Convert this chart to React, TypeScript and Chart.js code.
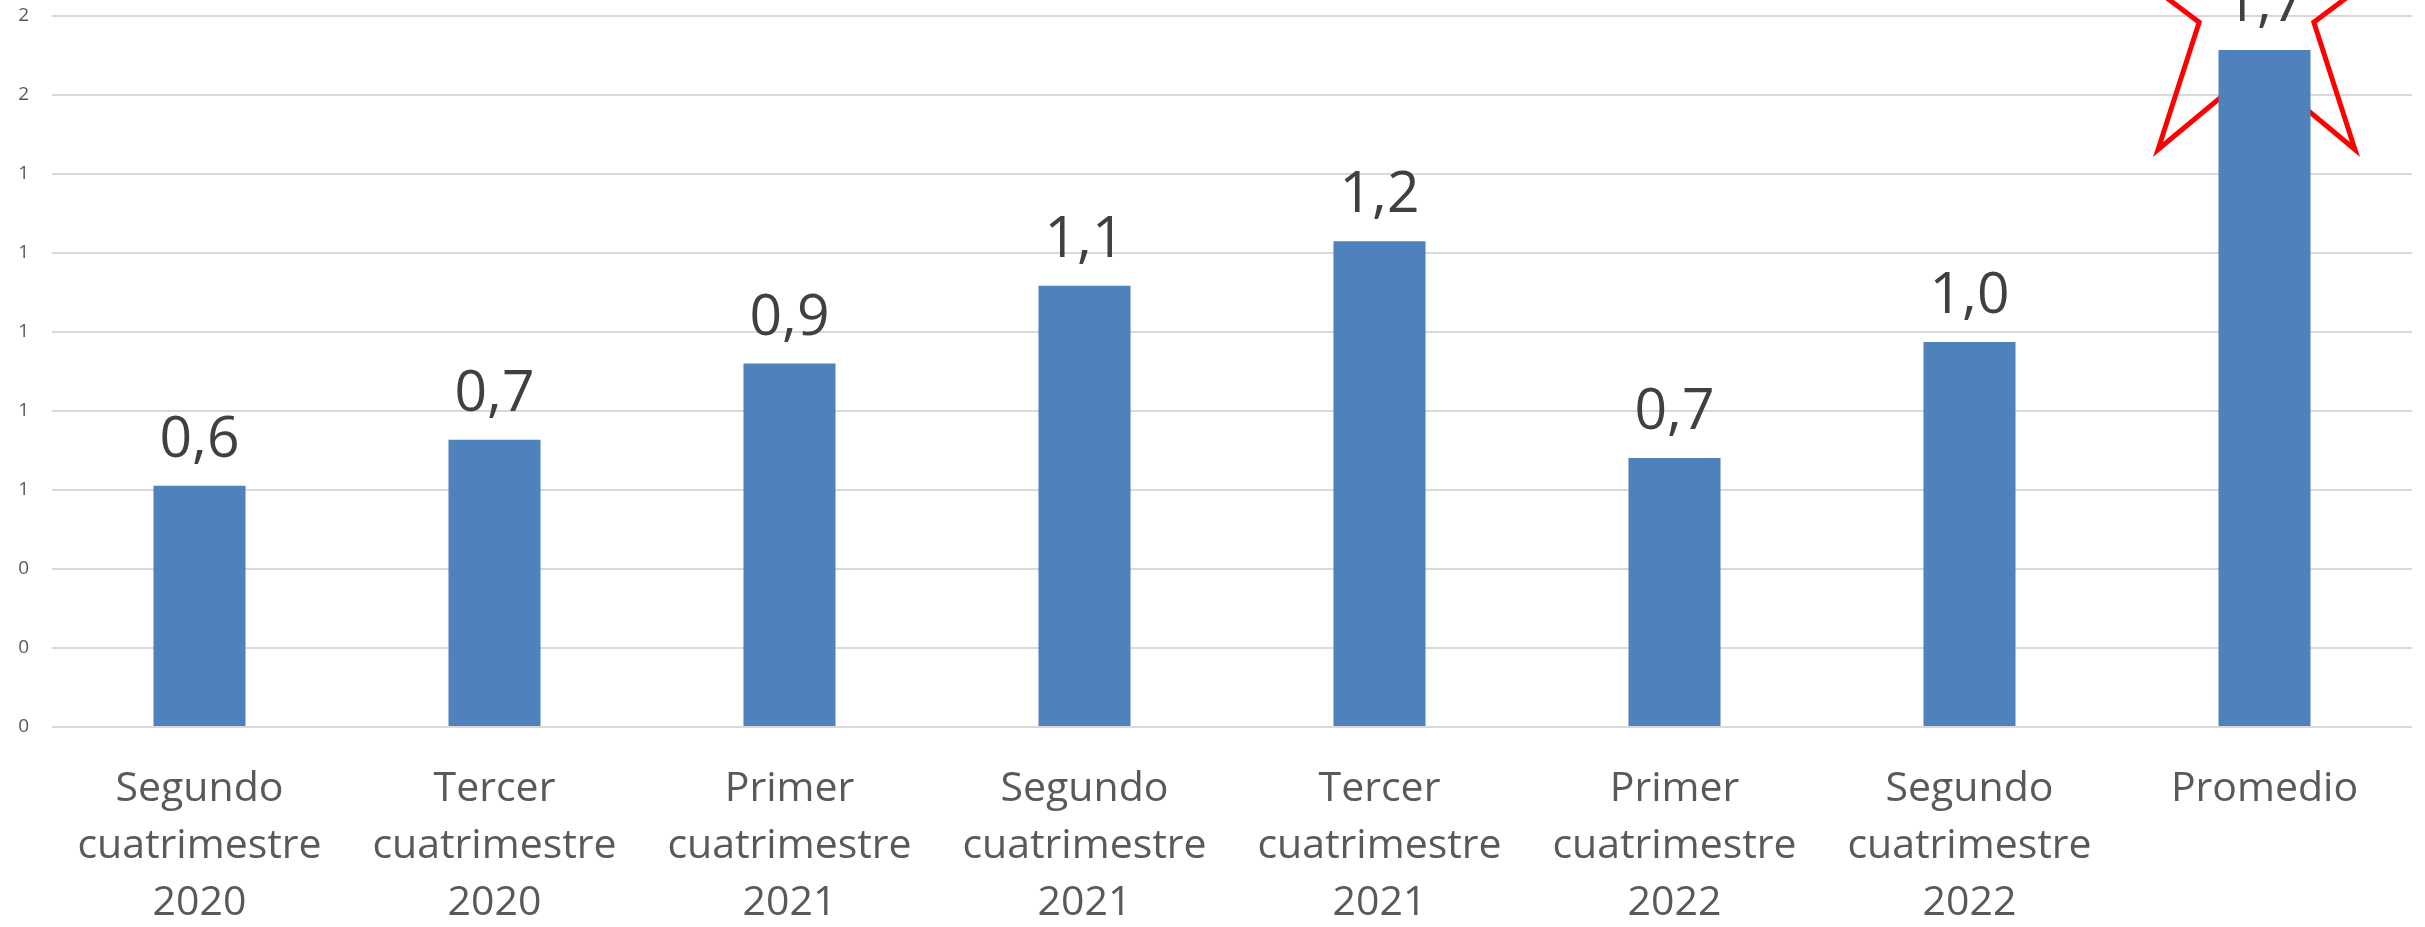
import React, { useEffect, useRef } from "react";
import { Chart, registerables } from "chart.js";

Chart.register(...registerables);

const categories: string[][] = [
  ["Segundo", "cuatrimestre", "2020"],
  ["Tercer", "cuatrimestre", "2020"],
  ["Primer", "cuatrimestre", "2021"],
  ["Segundo", "cuatrimestre", "2021"],
  ["Tercer", "cuatrimestre", "2021"],
  ["Primer", "cuatrimestre", "2022"],
  ["Segundo", "cuatrimestre", "2022"],
  ["Promedio"],
];

const values: number[] = [0.611, 0.727, 0.92, 1.117, 1.23, 0.681, 0.975, 1.714];

const yMin = 0;
const yMax = 1.8;
const yStep = 0.2;

const highlightIndex = 7;

const FONT = "'Open Sans', 'Noto Sans', sans-serif";

const dataLabelPlugin = {
  id: "dataLabels",
  afterDatasetsDraw(chart: any) {
    const ctx = chart.ctx;
    const meta = chart.getDatasetMeta(0);
    ctx.save();
    ctx.font = `57px ${FONT}`;
    ctx.fillStyle = "#404040";
    ctx.textAlign = "center";
    ctx.textBaseline = "alphabetic";
    meta.data.forEach((bar: any, i: number) => {
      const v = values[i];
      const txt = v.toFixed(1).replace(".", ",");
      ctx.fillText(txt, bar.x, bar.y - 29);
    });
    ctx.restore();
  },
};

const starPlugin = {
  id: "starMark",
  beforeDatasetsDraw(chart: any) {
    const ctx = chart.ctx;
    const meta = chart.getDatasetMeta(0);
    const bar: any = meta.data[highlightIndex];
    if (!bar) return;
    const cx = bar.x - 8;
    const cy = bar.y - 48;
    const sx = 167.5;
    const sy = 182.4;
    const k = 0.36;
    ctx.save();
    ctx.beginPath();
    for (let i = 0; i < 10; i++) {
      const ang = ((-90 + 36 * i) * Math.PI) / 180;
      const r = i % 2 === 0 ? 1 : k;
      const x = cx + r * Math.cos(ang) * sx;
      const y = cy + r * Math.sin(ang) * sy;
      if (i === 0) ctx.moveTo(x, y);
      else ctx.lineTo(x, y);
    }
    ctx.closePath();
    ctx.strokeStyle = "#ff0000";
    ctx.lineWidth = 5;
    ctx.lineJoin = "miter";
    ctx.stroke();
    ctx.restore();
  },
};

export default function App() {
  const canvasRef = useRef<HTMLCanvasElement | null>(null);

  useEffect(() => {
    if (!canvasRef.current) return;
    const chart = new Chart(canvasRef.current, {
      type: "bar",
      data: {
        labels: categories,
        datasets: [
          {
            data: values,
            backgroundColor: "#4f81bd",
            borderWidth: 0,
            categoryPercentage: 1,
            barPercentage: 0.312,
          },
        ],
      },
      options: {
        responsive: false,
        animation: false,
        layout: { padding: { top: 0, right: 13, left: 0, bottom: 0 } },
        plugins: {
          legend: { display: false },
          tooltip: { enabled: false },
          title: { display: false },
        },
        scales: {
          x: {
            grid: { display: false, drawTicks: false },
            border: { display: false },
            ticks: {
              color: "#595959",
              font: { family: FONT, size: 41, lineHeight: 1.39 },
              padding: 34,
              maxRotation: 0,
              autoSkip: false,
            },
            afterFit(scale: any) {
              scale.height = 200;
            },
          },
          y: {
            min: yMin,
            max: yMax,
            grid: { color: "#d9d9d9", lineWidth: 2, drawTicks: false },
            border: { display: false },
            ticks: {
              stepSize: yStep,
              color: "#595959",
              font: { family: FONT, size: 19 },
              padding: 23,
              callback: (v: any) => String(Math.round(Number(v))),
            },
            afterFit(scale: any) {
              scale.width = 52;
              scale.paddingTop = 16;
              scale.paddingBottom = 0;
            },
          },
        },
      },
      plugins: [starPlugin, dataLabelPlugin],
    });
    return () => chart.destroy();
  }, []);

  return (
    <div style={{ position: "absolute", left: 0, top: 0, width: 2425, height: 927, background: "#ffffff" }}>
      <canvas ref={canvasRef} width={2425} height={927} style={{ width: 2425, height: 927, display: "block" }} />
    </div>
  );
}
